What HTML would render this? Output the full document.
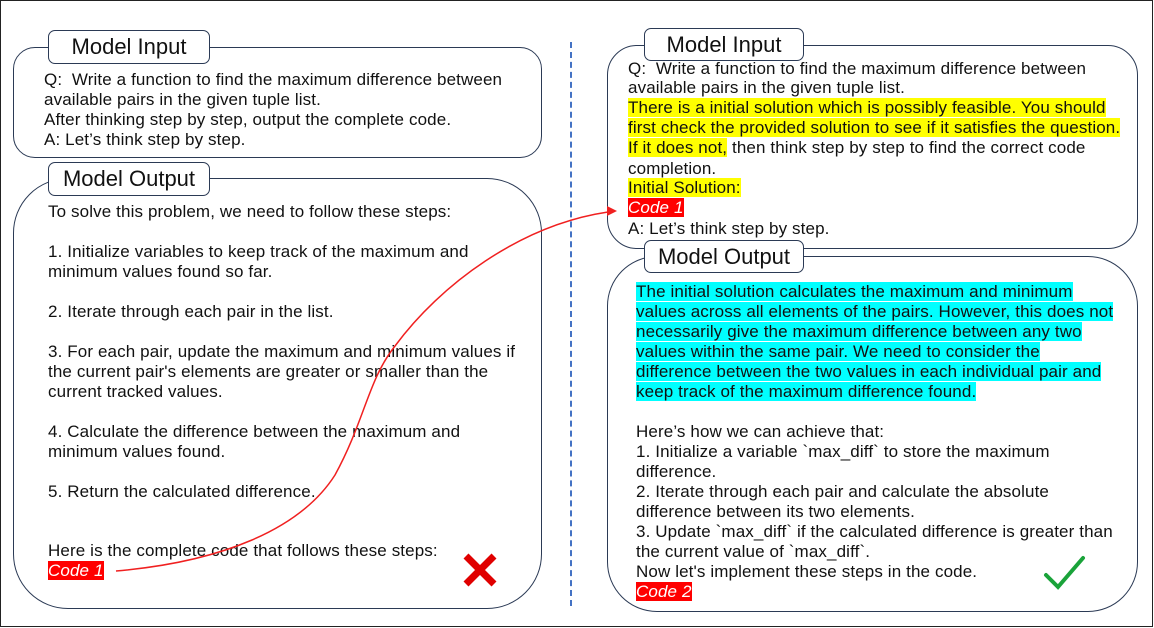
<!DOCTYPE html>
<html><head><meta charset="utf-8"><style>
body{margin:0;width:1154px;height:628px;position:relative;background:#fff;overflow:hidden;font-family:"Liberation Sans",Arial,sans-serif;color:#111}
.frame{position:absolute;left:0;top:0;width:1151px;height:625px;border:1.5px solid #222}
.box{position:absolute;border:1.5px solid #2b3a55;background:#fff}
.lab{position:absolute;border:1.5px solid #2b3a55;background:#fff;border-radius:7px;font-size:22px;text-align:center;line-height:32px}
.t{position:absolute;font-size:17px;letter-spacing:0.12px;line-height:20px;white-space:nowrap}
.y{background:#ffff00}.c{background:#00ffff}
.r{background:#ff0000;color:#fff;font-style:italic}
</style></head><body>
<div class="frame"></div>
<div style="position:absolute;left:570px;top:42px;height:564px;border-left:2px dashed #4472c4"></div>

<div class="box" style="left:13px;top:47px;width:527px;height:109px;border-radius:22px"></div>
<div class="lab" style="left:48px;top:30px;width:160px;height:32px">Model Input</div>
<div class="t" style="left:44px;top:70px">Q:&nbsp; Write a function to find the maximum difference between</div>
<div class="t" style="left:44px;top:90px">available pairs in the given tuple list.</div>
<div class="t" style="left:44px;top:110px">After thinking step by step, output the complete code.</div>
<div class="t" style="left:44px;top:130px">A: Let’s think step by step.</div>

<div class="box" style="left:13px;top:178px;width:527px;height:429px;border-radius:55px"></div>
<div class="lab" style="left:48px;top:162px;width:160px;height:32px">Model Output</div>
<div class="t" style="left:48px;top:202px">To solve this problem, we need to follow these steps:</div>
<div class="t" style="left:48px;top:242px">1. Initialize variables to keep track of the maximum and</div>
<div class="t" style="left:48px;top:262px">minimum values found so far.</div>
<div class="t" style="left:48px;top:302px">2. Iterate through each pair in the list.</div>
<div class="t" style="left:48px;top:342px">3. For each pair, update the maximum and minimum values if</div>
<div class="t" style="left:48px;top:362px">the current pair's elements are greater or smaller than the</div>
<div class="t" style="left:48px;top:382px">current tracked values.</div>
<div class="t" style="left:48px;top:422px">4. Calculate the difference between the maximum and</div>
<div class="t" style="left:48px;top:442px">minimum values found.</div>
<div class="t" style="left:48px;top:482px">5. Return the calculated difference.</div>
<div class="t" style="left:48px;top:541px">Here is the complete code that follows these steps:</div>
<div class="t" style="left:48px;top:561px"><span class="r">Code 1</span></div>

<div class="box" style="left:607px;top:45px;width:529px;height:202px;border-radius:30px"></div>
<div class="lab" style="left:644px;top:28px;width:158px;height:31px">Model Input</div>
<div class="t" style="left:628px;top:59px">Q:&nbsp; Write a function to find the maximum difference between</div>
<div class="t" style="left:628px;top:78px">available pairs in the given tuple list.</div>
<div class="t" style="left:628px;top:98px"><span class="y">There is a initial solution which is possibly feasible. You should</span></div>
<div class="t" style="left:628px;top:118px"><span class="y">first check the provided solution to see if it satisfies the question.</span></div>
<div class="t" style="left:628px;top:138px"><span class="y">If it does not,</span> then think step by step to find the correct code</div>
<div class="t" style="left:628px;top:159px">completion.</div>
<div class="t" style="left:628px;top:178px"><span class="y">Initial Solution:</span></div>
<div class="t" style="left:628px;top:198px"><span class="r">Code 1</span></div>
<div class="t" style="left:628px;top:219px">A: Let’s think step by step.</div>

<div class="box" style="left:607px;top:256px;width:529px;height:354px;border-radius:50px"></div>
<div class="lab" style="left:644px;top:240px;width:158px;height:31px">Model Output</div>
<div class="t" style="left:636px;top:282px"><span class="c">The initial solution calculates the maximum and minimum</span></div>
<div class="t" style="left:636px;top:302px"><span class="c">values across all elements of the pairs. However, this does not</span></div>
<div class="t" style="left:636px;top:322px"><span class="c">necessarily give the maximum difference between any two</span></div>
<div class="t" style="left:636px;top:342px"><span class="c">values within the same pair. We need to consider the</span></div>
<div class="t" style="left:636px;top:362px"><span class="c">difference between the two values in each individual pair and</span></div>
<div class="t" style="left:636px;top:382px"><span class="c">keep track of the maximum difference found.</span></div>
<div class="t" style="left:636px;top:422px">Here’s how we can achieve that:</div>
<div class="t" style="left:636px;top:442px">1. Initialize a variable `max_diff` to store the maximum</div>
<div class="t" style="left:636px;top:462px">difference.</div>
<div class="t" style="left:636px;top:482px">2. Iterate through each pair and calculate the absolute</div>
<div class="t" style="left:636px;top:502px">difference between its two elements.</div>
<div class="t" style="left:636px;top:522px">3. Update `max_diff` if the calculated difference is greater than</div>
<div class="t" style="left:636px;top:542px">the current value of `max_diff`.</div>
<div class="t" style="left:636px;top:562px">Now let's implement these steps in the code.</div>
<div class="t" style="left:636px;top:582px"><span class="r">Code 2</span></div>

<svg style="position:absolute;left:0;top:0" width="1154" height="628">
<path d="M116,571 C220,562 300,530 335,475 C365,420 368,380 395,346 C440,285 520,225 608,212" fill="none" stroke="#f02020" stroke-width="1.5"/>
<polygon points="617,211 607,206 607,216" fill="#f02020"/>
<path d="M466,556 L494,584 M494,556 L466,584" stroke="#e00000" stroke-width="7"/>
<path d="M1046,575 L1058,587 L1083,558" fill="none" stroke="#1aa33a" stroke-width="4" stroke-linecap="round"/>
</svg>
</body></html>
